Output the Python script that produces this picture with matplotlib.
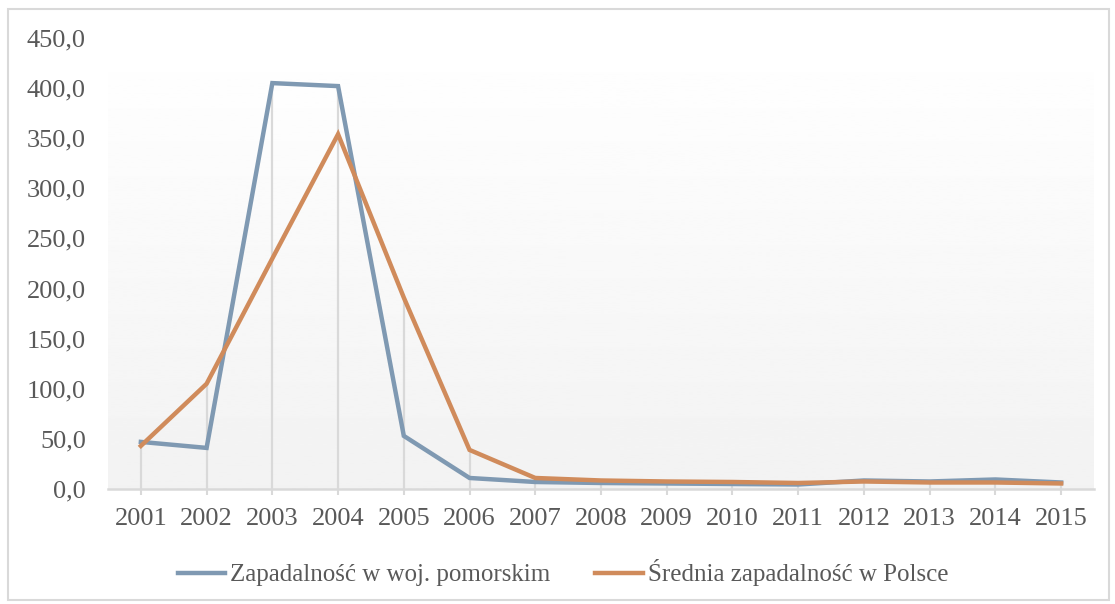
import numpy as np
import matplotlib
matplotlib.use("Agg")
import matplotlib.pyplot as plt
from matplotlib.patches import Rectangle

plt.rcParams['font.family'] = ['Liberation Serif', 'DejaVu Serif']

years = ['2001', '2002', '2003', '2004', '2005', '2006', '2007', '2008',
         '2009', '2010', '2011', '2012', '2013', '2014', '2015']
pomorskie = [47, 41, 405, 402, 53, 11, 7, 6, 5.5, 5, 4.5, 8.5, 7.5, 9.5, 6.5]
polska = [43, 105, 230, 354, 191, 39, 11, 8.5, 7.5, 7, 6, 7.5, 6.5, 6.5, 5.5]
label1 = 'Zapadalność w woj. pomorskim'
label2 = 'Średnia zapadalność w Polsce'
yticks = [0, 50, 100, 150, 200, 250, 300, 350, 400, 450]

text_col = '#595959'
grid_col = '#d9d9d9'

fig = plt.figure(figsize=(11.15, 6.04), dpi=100)
ax = fig.add_axes([108/1115, 1-489/604, (1094-108)/1115, (489-38)/604])

x = np.arange(len(years))
ax.set_xlim(-0.5, len(years)-0.5)
ax.set_ylim(0, 450)

# gradient background of plot area
grad = np.linspace(1.0, 0.949, 256).reshape(-1, 1)
ax.imshow(grad, cmap='gray', vmin=0, vmax=1, aspect='auto',
          extent=[-0.5, len(years)-0.5, 0, 450], zorder=0)

# drop lines
tops = np.maximum(pomorskie, polska)
ax.vlines(x, 0, tops, color=grid_col, lw=1.6, zorder=1)

ax.plot(x, pomorskie, color='#7f99b2', lw=3.2, label=label1, zorder=3,
        solid_joinstyle='miter')
ax.plot(x, polska, color='#d08b5b', lw=3.2, label=label2, zorder=3,
        solid_joinstyle='miter')

for s in ['top', 'right', 'left']:
    ax.spines[s].set_visible(False)
ax.spines['bottom'].set_color(grid_col)
ax.spines['bottom'].set_linewidth(1.8)
ax.spines['bottom'].set_zorder(2)

ax.set_xticks(x)
ax.set_xticklabels(years)
ax.set_yticks(yticks)
ax.set_yticklabels([f'{v:.1f}'.replace('.', ',') for v in yticks])
ax.tick_params(axis='x', length=4, color=grid_col, width=1.5, pad=10,
               labelsize=19, labelcolor=text_col)
ax.tick_params(axis='y', length=0, pad=16, labelsize=19, labelcolor=text_col)

leg = fig.legend(loc='center', bbox_to_anchor=(0.505, 1-573/604), ncol=2,
                 frameon=False, fontsize=18, labelcolor=text_col,
                 handlelength=1.9, handletextpad=0.2, columnspacing=1.8)

fig.patches.append(Rectangle((8/1115, 1-600/604), (1109-8)/1115, (600-9)/604,
                             transform=fig.transFigure, fill=False,
                             edgecolor=grid_col, lw=1.5))

fig.savefig('out.png', dpi=100, facecolor='white')
